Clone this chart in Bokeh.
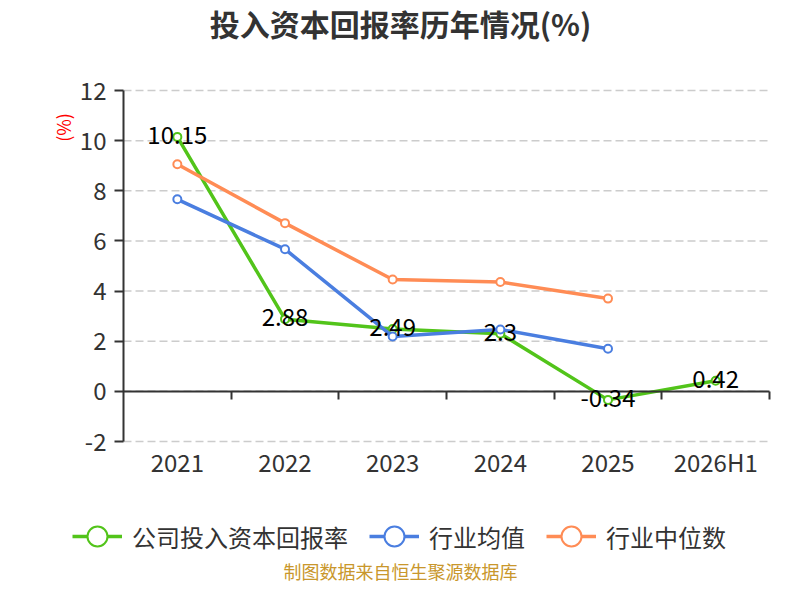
import math
from bokeh.plotting import figure
from bokeh.models import (Range1d, LinearAxis, FixedTicker, LabelSet,
                          ColumnDataSource, Legend, LegendItem)
from bokeh.core.properties import value
from bokeh.embed import file_html
from bokeh.resources import INLINE

# ---- data ----
categories = ["2021", "2022", "2023", "2024", "2025", "2026H1"]
company_roic = [10.15, 2.88, 2.49, 2.3, -0.34, 0.42]
industry_avg = [7.66, 5.67, 2.19, 2.47, 1.70]
industry_median = [9.06, 6.71, 4.46, 4.36, 3.70]
y_ticks = [-2, 0, 2, 4, 6, 8, 10, 12]
series_names = ["公司投入资本回报率", "行业均值", "行业中位数"]
title_text = "投入资本回报率历年情况(%)"
y_unit = "(%)"
footer_text = "制图数据来自恒生聚源数据库"

FONT = "Noto Sans CJK SC"
GREEN = "#52c41a"
BLUE = "#4a7ee0"
ORANGE = "#ff8c55"
AXIS = "#333333"

# ---- layout (pixels) ----
W, H = 784, 584
FRAME_L, FRAME_T = 60, 40          # frame covers the rest of the canvas
PLOT_L, PLOT_R, PLOT_T, PLOT_B = 123, 769, 90, 441   # visible axes box

n = len(categories)
xs = list(range(n))
x_lo, x_hi = -0.5, n - 0.5
y_lo, y_hi = y_ticks[0], y_ticks[-1]
x_mid = (x_lo + x_hi) / 2
ppx = (PLOT_R - PLOT_L) / (x_hi - x_lo)
ppy = (PLOT_B - PLOT_T) / (y_hi - y_lo)
x_range = Range1d(x_lo - (PLOT_L - FRAME_L) / ppx, x_hi + (W - PLOT_R) / ppx)
y_range = Range1d(y_lo - (H - PLOT_B) / ppy, y_hi + (PLOT_T - FRAME_T) / ppy)

p = figure(width=W, height=H, output_backend="svg", toolbar_location=None,
           x_range=x_range, y_range=y_range, x_axis_location="above",
           min_border_left=FRAME_L, min_border_right=0, min_border_top=FRAME_T,
           min_border_bottom=0, title=None)
p.outline_line_color = None
p.background_fill_color = "white"
p.border_fill_color = "white"
p.xgrid.visible = False
p.ygrid.visible = False

# category labels (axis fixed at the bottom of the axes box, labels pushed below it)
xa = p.xaxis[0]
xa.fixed_location = y_lo
xa.ticker = FixedTicker(ticks=xs)
xa.major_label_overrides = {i: c for i, c in enumerate(categories)}
xa.axis_line_color = None
xa.major_tick_line_color = None
xa.major_tick_in = 0
xa.major_tick_out = 0
xa.minor_tick_line_color = None
xa.major_label_text_font = FONT
xa.major_label_text_font_size = "24px"
xa.major_label_text_color = AXIS
xa.major_label_standoff = -37

# axis line at y=0 with boundary ticks pointing down
zero_axis = LinearAxis(fixed_location=0, bounds=(x_lo, x_hi),
                       ticker=FixedTicker(ticks=[], minor_ticks=[i + 0.5 for i in xs]),
                       axis_line_color=AXIS, axis_line_width=2,
                       major_tick_line_color=None, major_tick_in=0, major_tick_out=0,
                       minor_tick_line_color=AXIS, minor_tick_line_width=2,
                       minor_tick_in=8, minor_tick_out=0,
                       major_label_text_font=FONT, major_label_text_font_size="12px")
p.add_layout(zero_axis, "above")

ya = p.yaxis[0]
ya.fixed_location = x_lo
ya.bounds = (y_lo, y_hi)
ya.ticker = FixedTicker(ticks=y_ticks)
ya.major_label_overrides = {t: str(t) for t in y_ticks}
ya.axis_line_color = AXIS
ya.axis_line_width = 2
ya.major_tick_line_color = AXIS
ya.major_tick_line_width = 2
ya.major_tick_in = 0
ya.major_tick_out = 9
ya.minor_tick_line_color = None
ya.major_label_text_font = FONT
ya.major_label_text_font_size = "24px"
ya.major_label_text_color = AXIS
ya.major_label_standoff = 8

# dashed horizontal grid lines across the axes box
p.segment(x0=[x_lo] * len(y_ticks), x1=[x_hi] * len(y_ticks), y0=y_ticks, y1=y_ticks,
          line_color="#cccccc", line_width=1.5, line_dash="8 4")

renderers = []
for vals, color in [(company_roic, GREEN), (industry_avg, BLUE), (industry_median, ORANGE)]:
    src = ColumnDataSource(dict(x=xs[:len(vals)], y=vals))
    lr = p.line("x", "y", source=src, line_color=color, line_width=3.5)
    sr = p.scatter("x", "y", source=src, size=8, fill_color="white",
                   line_color=color, line_width=2)
    renderers.append([lr, sr])

lab_src = ColumnDataSource(dict(x=xs, y=company_roic,
                                t=[f"{v:g}" for v in company_roic]))
p.add_layout(LabelSet(x="x", y="y", text="t", source=lab_src, y_offset=2,
                      text_align="center", text_baseline="middle",
                      text_font=value(FONT), text_font_size=value("24px"),
                      text_color="#000000"))

# title, unit and source note
p.text(x=[x_mid], y=[y_hi], text=[title_text], x_offset=-46, y_offset=-68,
       text_align="center", text_baseline="middle", text_font=value(FONT),
       text_font_size=value("30px"), text_font_style="bold", text_color=AXIS,
       level="overlay")
p.text(x=[x_lo], y=[y_hi], text=[y_unit], x_offset=-61, y_offset=37,
       angle=math.pi / 2, text_align="center", text_baseline="middle",
       text_font=value(FONT), text_font_size=value("18px"), text_color="#ff0000",
       level="overlay")
p.text(x=[x_mid], y=[y_lo], text=[footer_text], x_offset=-46, y_offset=129,
       text_align="center", text_baseline="middle", text_font=value(FONT),
       text_font_size=value("18px"), text_color="#c9972c", level="overlay")

LEG_H = 50
legend = Legend(items=[LegendItem(label=name, renderers=r)
                       for name, r in zip(series_names, renderers)],
                location=(72 - FRAME_L, H - (536 + LEG_H // 2)), orientation="horizontal",
                glyph_width=50, glyph_height=LEG_H, label_height=LEG_H,
                label_standoff=10, spacing=21,
                padding=0, margin=0, background_fill_alpha=0, border_line_alpha=0,
                label_text_font=FONT, label_text_font_size="24px",
                label_text_color=AXIS)
p.add_layout(legend)

open("out.html", "w").write(file_html(p, INLINE))
